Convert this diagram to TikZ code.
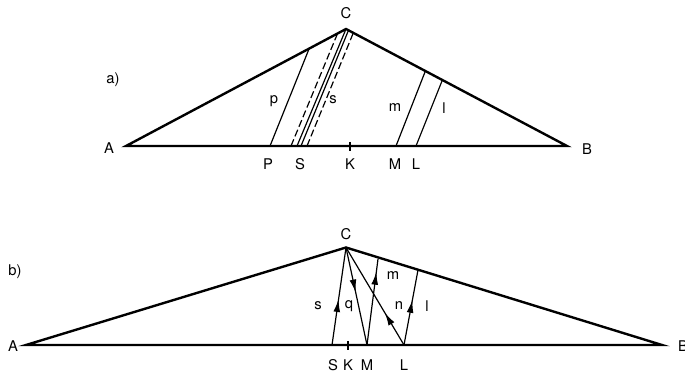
\documentclass[tikz,border=0pt]{standalone}
\usepackage{fontspec}
\setmainfont{TeX Gyre Heros}
\usepackage{tikz}
\usetikzlibrary{arrows.meta,decorations.markings}
\tikzset{
  tri/.style={line width=1.7pt,line join=miter,draw=black},
  ray/.style={line width=0.85pt,draw=black},
  rayd/.style={line width=0.85pt,draw=black,dash pattern=on 1.8mm off 0.8mm},
  tick/.style={line width=0.85pt,draw=black},
  lbl/.style={inner sep=0pt,font=\fontsize{10.5}{12}\selectfont},
  flow/.style={ray,postaction={decorate},
    decoration={markings,mark=at position #1 with {\arrow{Latex[length=3.2mm,width=1.7mm]}}}}
}
\begin{document}
\begin{tikzpicture}[x=0.025cm,y=-0.025cm]
  \useasboundingbox (0,0) rectangle (685,373);
  % a) triangle with parallel rays
  \coordinate (A1) at (126,146);
  \coordinate (B1) at (567,146);
  \coordinate (C1) at (346,29);
  \coordinate (P1) at (270,146);   \coordinate (pt) at (309,49);
  \coordinate (M1) at (396,146);   \coordinate (mt) at (425,72);
  \coordinate (L1) at (416,146);   \coordinate (lt) at (442,81);
  \coordinate (S1) at (297,146);
  \coordinate (s2b) at (301,146);  \coordinate (s2t) at (348.5,30.3);
  \coordinate (d1b) at (291,146);  \coordinate (d1t) at (337.6,33.4);
  \coordinate (d2b) at (307,146);  \coordinate (d2t) at (353.3,32.9);
  \draw[tri] (A1) -- (C1) -- (B1) -- cycle;
  \draw[ray] (P1) -- (pt);
  \draw[ray] (S1) -- (C1);
  \draw[ray] (s2b) -- (s2t);
  \draw[rayd] (d1b) -- (d1t);
  \draw[rayd] (d2b) -- (d2t);
  \draw[ray] (M1) -- (mt);
  \draw[ray] (L1) -- (lt);
  \draw[tick] (350,142) -- (350,151);
  \node[lbl] (alab) at (113,80) {a)};
  \node[lbl] (Atxt1) at (109,148) {A};
  \node[lbl] (Btxt1) at (587,149) {B};
  \node[lbl] (Ctxt1) at (346,13) {C};
  \node[lbl] (Ptxt1) at (268,164) {P};
  \node[lbl] (Stxt1) at (300,164) {S};
  \node[lbl] (Ktxt1) at (350,164) {K};
  \node[lbl] (Mtxt1) at (395,164) {M};
  \node[lbl] (Ltxt1) at (416,164) {L};
  \node[lbl] (plab) at (274,101) {p};
  \node[lbl] (slab1) at (333,100) {s};
  \node[lbl] (mlab1) at (395,108) {m};
  \node[lbl] (llab1) at (444,108) {l};
  % b) triangle with reflected rays
  \coordinate (A2) at (26,345);
  \coordinate (B2) at (662,345);
  \coordinate (C2) at (346,247.5);
  \coordinate (S2) at (332,345);
  \coordinate (M2) at (367,345);
  \coordinate (L2) at (404,345);
  \coordinate (mt2) at (378,259);
  \coordinate (lt2) at (418,270);
  \draw[tri] (A2) -- (C2) -- (B2) -- cycle;
  \draw[flow=0.47] (S2) -- (C2);
  \draw[flow=0.46] (C2) -- (M2);
  \draw[flow=0.85] (M2) -- (mt2);
  \draw[flow=0.33] (L2) -- (C2);
  \draw[flow=0.6] (L2) -- (lt2);
  \draw[tick] (348,341) -- (348,350);
  \node[lbl] (blab) at (15,272) {b)};
  \node[lbl] (Atxt2) at (13,346) {A};
  \node[lbl] (Btxt2) at (683,346) {B};
  \node[lbl] (Ctxt2) at (346,234) {C};
  \node[lbl] (Stxt2) at (333,365) {S};
  \node[lbl] (Ktxt2) at (348,365) {K};
  \node[lbl] (Mtxt2) at (367,365) {M};
  \node[lbl] (Ltxt2) at (404,365) {L};
  \node[lbl] (slab2) at (318,306) {s};
  \node[lbl] (qlab) at (349,306) {q};
  \node[lbl] (mlab2) at (393,276) {m};
  \node[lbl] (nlab) at (399,306) {n};
  \node[lbl] (llab2) at (427,306) {l};
\end{tikzpicture}
\end{document}
